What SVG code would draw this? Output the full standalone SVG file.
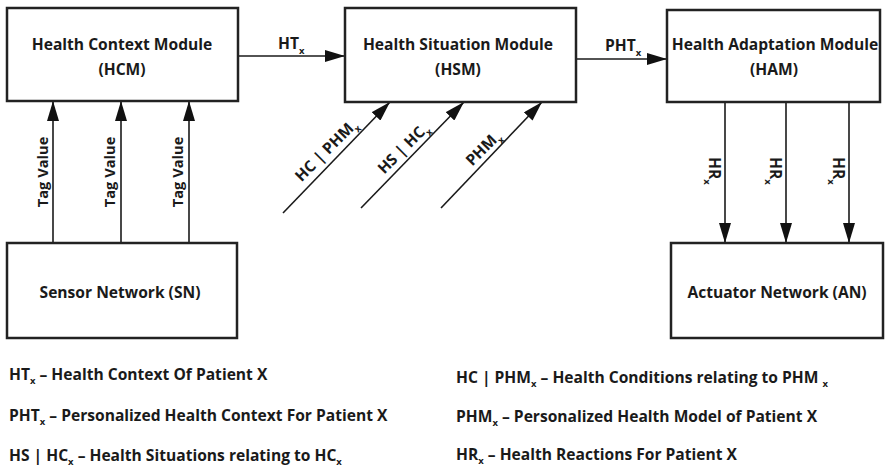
<svg xmlns="http://www.w3.org/2000/svg" width="885" height="467" viewBox="0 0 885 467">
<style>
.box{fill:#fff;stroke:#222;stroke-width:2.5}
.t{font-family:"Open Sans","Liberation Sans",Arial,sans-serif;font-weight:bold;font-size:15.6px;fill:#1a1a1a}
.tv{font-size:14.7px}
.c{text-anchor:middle}
.sub{font-size:9.5px}
.ln{stroke:#1a1a1a;stroke-width:1.6;fill:none}
</style>
<defs>
<marker id="ah" markerUnits="userSpaceOnUse" markerWidth="20" markerHeight="12" refX="20" refY="6" orient="auto">
<path d="M0,0 L20,6 L0,12 z" fill="#111"/>
</marker>
</defs>
<rect width="885" height="467" fill="#fff"/>
<g id="connectors">
<line class="ln" x1="238" y1="56" x2="345" y2="56" marker-end="url(#ah)"/>
<line class="ln" x1="576" y1="59" x2="667" y2="59" marker-end="url(#ah)"/>
<line class="ln" x1="53" y1="243" x2="53" y2="101" marker-end="url(#ah)"/>
<line class="ln" x1="121" y1="243" x2="121" y2="101" marker-end="url(#ah)"/>
<line class="ln" x1="189" y1="243" x2="189" y2="101" marker-end="url(#ah)"/>
<line class="ln" x1="283" y1="213" x2="390" y2="102" marker-end="url(#ah)"/>
<line class="ln" x1="361" y1="208" x2="464" y2="102" marker-end="url(#ah)"/>
<line class="ln" x1="441" y1="208" x2="542" y2="102" marker-end="url(#ah)"/>
<line class="ln" x1="725" y1="102" x2="725" y2="243" marker-end="url(#ah)"/>
<line class="ln" x1="786" y1="102" x2="786" y2="243" marker-end="url(#ah)"/>
<line class="ln" x1="849" y1="102" x2="849" y2="243" marker-end="url(#ah)"/>
<text class="t" x="278" y="49">HT<tspan class="sub" dy="5">x</tspan></text>
<text class="t" x="605" y="51">PHT<tspan class="sub" dy="5">x</tspan></text>
<text class="t tv c" transform="translate(48,172) rotate(-90)">Tag Value</text>
<text class="t tv c" transform="translate(115,172) rotate(-90)">Tag Value</text>
<text class="t tv c" transform="translate(183,172) rotate(-90)">Tag Value</text>
<text class="t c" transform="translate(330,154) rotate(-45)">HC | PHM<tspan class="sub" dy="5">x</tspan></text>
<text class="t c" transform="translate(407,152) rotate(-45)">HS | HC<tspan class="sub" dy="5">x</tspan></text>
<text class="t c" transform="translate(487,152) rotate(-45)">PHM<tspan class="sub" dy="5">x</tspan></text>
<text class="t" transform="translate(709,157) rotate(90)">HR<tspan class="sub" dy="5">x</tspan></text>
<text class="t" transform="translate(770,157) rotate(90)">HR<tspan class="sub" dy="5">x</tspan></text>
<text class="t" transform="translate(833,157) rotate(90)">HR<tspan class="sub" dy="5">x</tspan></text>
</g>
<g id="HCM">
<rect class="box" x="7" y="8" width="231" height="93"/>
<text class="t c" x="122" y="50">Health Context Module</text>
<text class="t c" x="122" y="75">(HCM)</text>
</g>
<g id="HSM">
<rect class="box" x="345" y="8" width="231" height="94"/>
<text class="t c" x="458" y="50">Health Situation Module</text>
<text class="t c" x="458" y="75">(HSM)</text>
</g>
<g id="HAM">
<rect class="box" x="667" y="10" width="213" height="92"/>
<text class="t c" x="775" y="50">Health Adaptation Module</text>
<text class="t c" x="774" y="75">(HAM)</text>
</g>
<g id="SN">
<rect class="box" x="7" y="243" width="230" height="95"/>
<text class="t c" x="120" y="298">Sensor Network (SN)</text>
</g>
<g id="AN">
<rect class="box" x="671" y="243" width="212" height="95"/>
<text class="t c" x="777" y="298">Actuator Network (AN)</text>
</g>
<g id="legend">
<text class="t" x="9" y="380">HT<tspan class="sub" dy="4">x</tspan><tspan dy="-4"> – Health Context Of Patient X</tspan></text>
<text class="t" x="9" y="421">PHT<tspan class="sub" dy="4">x</tspan><tspan dy="-4"> – Personalized Health Context For Patient X</tspan></text>
<text class="t" x="9" y="461">HS | HC<tspan class="sub" dy="4">x</tspan><tspan dy="-4"> – Health Situations relating to HC</tspan><tspan class="sub" dy="4">x</tspan></text>
<text class="t" x="456" y="383">HC | PHM<tspan class="sub" dy="4">x</tspan><tspan dy="-4"> – Health Conditions relating to PHM </tspan><tspan class="sub" dy="4">x</tspan></text>
<text class="t" x="456" y="422">PHM<tspan class="sub" dy="4">x</tspan><tspan dy="-4"> – Personalized Health Model of Patient X</tspan></text>
<text class="t" x="456" y="460">HR<tspan class="sub" dy="4">x</tspan><tspan dy="-4"> – Health Reactions For Patient X</tspan></text>
</g>
</svg>
